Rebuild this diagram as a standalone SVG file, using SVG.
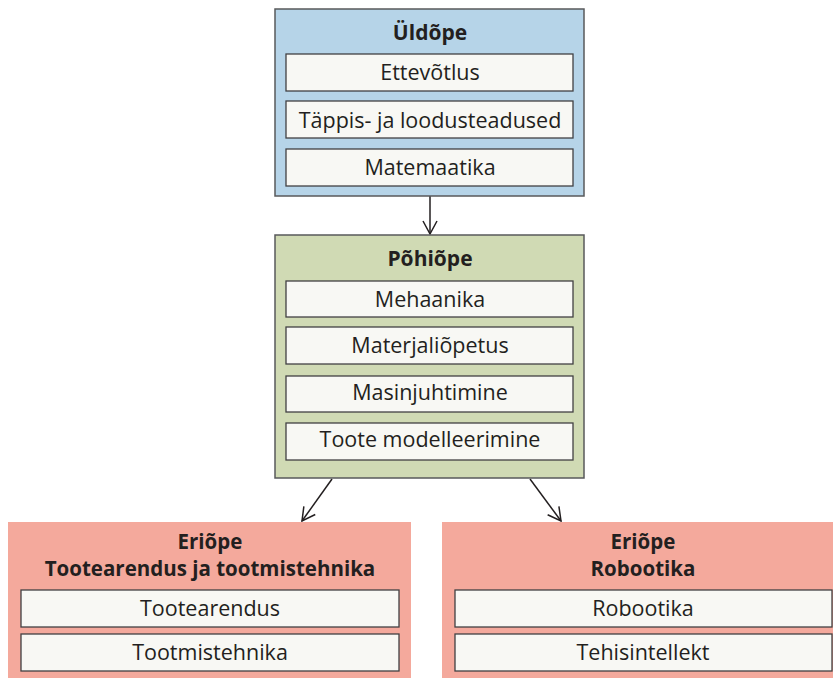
<svg xmlns="http://www.w3.org/2000/svg" width="833" height="678" viewBox="0 0 833 678">
<defs>
<style>
.t{font-family:"Open Sans","Liberation Sans",sans-serif;fill:#231f20;text-anchor:middle}
.h{font-size:21px;font-weight:bold}
.h2{font-size:20.5px;font-weight:bold}
.i{font-size:21.5px}
.box{stroke:#58595b;stroke-width:1.5}
.in{fill:#f8f8f4;stroke:#414042;stroke-width:1.3}
.c{stroke:#231f20;stroke-width:1.5;fill:none}
</style>
<marker id="a" viewBox="0 0 16 16" refX="14" refY="8" markerWidth="16" markerHeight="16" markerUnits="userSpaceOnUse" orient="auto">
<path d="M1,1 L14,8 L1,15" fill="none" stroke="#231f20" stroke-width="1.5"/>
</marker>
</defs>
<rect width="833" height="678" fill="#fff"/>
<g id="connectors">
<line class="c" x1="430" y1="196" x2="430" y2="234" marker-end="url(#a)"/>
<line class="c" x1="332" y1="479" x2="302" y2="521" marker-end="url(#a)"/>
<line class="c" x1="530" y1="479" x2="561" y2="521" marker-end="url(#a)"/>
</g>
<g id="uldope">
<rect class="box" x="275" y="9" width="309" height="187" fill="#b6d4e8"/>
<text class="t h" x="430" y="40">Üldõpe</text>
<rect class="in" x="286" y="54" width="287" height="37"/>
<text class="t i" x="430" y="80">Ettevõtlus</text>
<rect class="in" x="286" y="101" width="287" height="37"/>
<text class="t i" x="430" y="128">Täppis- ja loodusteadused</text>
<rect class="in" x="286" y="149" width="287" height="37"/>
<text class="t i" x="430" y="175">Matemaatika</text>
</g>
<g id="pohiope">
<rect class="box" x="275" y="235" width="309" height="243" fill="#d0dab4"/>
<text class="t h" x="430" y="266">Põhiõpe</text>
<rect class="in" x="286" y="281" width="287" height="36"/>
<text class="t i" x="430" y="307">Mehaanika</text>
<rect class="in" x="286" y="327" width="287" height="37"/>
<text class="t i" x="430" y="353">Materjaliõpetus</text>
<rect class="in" x="286" y="376" width="287" height="36"/>
<text class="t i" x="430" y="400">Masinjuhtimine</text>
<rect class="in" x="286" y="423" width="287" height="37"/>
<text class="t i" x="430" y="447">Toote modelleerimine</text>
</g>
<g id="eriope1">
<rect x="8" y="522" width="403" height="156" fill="#f4a99c"/>
<text class="t h2" x="210" y="549">Eriõpe<tspan x="210" dy="27">Tootearendus ja tootmistehnika</tspan></text>
<rect class="in" x="21" y="590" width="378" height="37"/>
<text class="t i" x="210" y="616">Tootearendus</text>
<rect class="in" x="21" y="634" width="378" height="37"/>
<text class="t i" x="210" y="660">Tootmistehnika</text>
</g>
<g id="eriope2">
<rect x="442" y="522" width="391" height="156" fill="#f4a99c"/>
<text class="t h2" x="643" y="549">Eriõpe<tspan x="643" dy="27">Robootika</tspan></text>
<rect class="in" x="455" y="590" width="377" height="37"/>
<text class="t i" x="643" y="616">Robootika</text>
<rect class="in" x="455" y="634" width="377" height="37"/>
<text class="t i" x="643" y="660">Tehisintellekt</text>
</g>
</svg>
